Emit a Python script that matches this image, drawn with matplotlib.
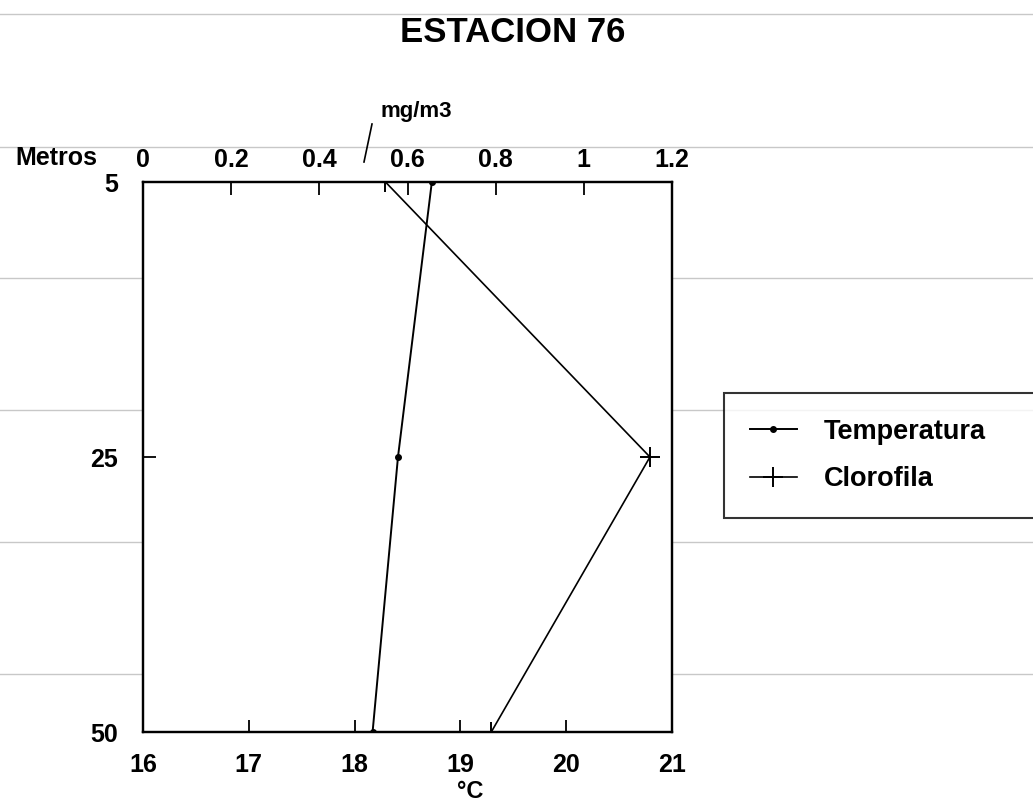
import matplotlib
matplotlib.use('Agg')
import matplotlib.pyplot as plt
from matplotlib.lines import Line2D
import numpy as np

plt.rcParams['font.family'] = ['Liberation Sans', 'DejaVu Sans']
plt.rcParams['font.weight'] = 'bold'

depths = ['5', '25', '50']
temperatura = [18.73, 18.41, 18.17]
clorofila = [0.55, 1.15, 0.79]

temp_ticks = [16, 17, 18, 19, 20, 21]
clor_ticks = [0, 0.2, 0.4, 0.6, 0.8, 1.0, 1.2]
clor_labels = ['0', '0.2', '0.4', '0.6', '0.8', '1', '1.2']

fig = plt.figure(figsize=(10.33, 8.05), dpi=100)

# faint horizontal scan lines on the page
for yy in [14, 147, 278, 410, 542, 674]:
    fig.add_artist(Line2D([0, 1], [1 - yy / 805, 1 - yy / 805], color='#c8c8c8', lw=1, zorder=0))

ax = fig.add_axes([143 / 1033, 1 - 732 / 805, (672 - 143) / 1033, (732 - 182) / 805])
pos = np.arange(len(depths))

l1, = ax.plot(temperatura, pos, color='black', lw=1.4, marker='o', markersize=4, label='Temperatura')
ax.set_xlim(16, 21)
ax.set_ylim(pos[-1], pos[0])
ax.set_xticks(temp_ticks)
ax.set_xticklabels([str(t) for t in temp_ticks], fontsize=18, fontweight='bold')
ax.set_yticks(pos)
ax.set_yticklabels(depths, fontsize=18, fontweight='bold')
ax.tick_params(axis='x', direction='in', length=9, width=1.3, pad=15)
ax.tick_params(axis='y', direction='in', length=9, width=1.3, pad=18)

ax2 = ax.twiny()
l2, = ax2.plot(clorofila, pos, color='black', lw=1.2, marker='+', markersize=14, markeredgewidth=1.4, label='Clorofila')
ax2.set_xlim(0, 1.2)
ax2.set_xticks(clor_ticks)
ax2.set_xticklabels(clor_labels, fontsize=18, fontweight='bold')
ax2.tick_params(axis='x', direction='in', length=9, width=1.3, pad=7)

for a in (ax, ax2):
    for s in a.spines.values():
        s.set_linewidth(1.6)

fig.text(513 / 1033, 1 - 32 / 805, 'ESTACION 76', ha='center', va='center', fontsize=25, fontweight='bold')
fig.text(56 / 1033, 1 - 158 / 805, 'Metros', ha='center', va='center', fontsize=18, fontweight='bold')
fig.text(416 / 1033, 1 - 112 / 805, 'mg/m3', ha='center', va='center', fontsize=16, fontweight='bold')
fig.add_artist(Line2D([364 / 1033, 372 / 1033], [1 - 162 / 805, 1 - 124 / 805], color='black', lw=1.2))
fig.text(470 / 1033, 1 - 791 / 805, '°C', ha='center', va='center', fontsize=17, fontweight='bold')

leg = fig.legend(handles=[l1, l2], loc='lower left', bbox_to_anchor=(724 / 1033, 1 - 518 / 805, 0.35, 127 / 805),
                 mode='expand', fontsize=19.5, frameon=True, fancybox=False, edgecolor='black',
                 borderpad=0.95, labelspacing=0.8, handlelength=1.75, handletextpad=1.0, borderaxespad=0)
leg.get_frame().set_linewidth(1.5)
for t in leg.get_texts():
    t.set_fontweight('bold')

fig.savefig('out.png', dpi=100)
